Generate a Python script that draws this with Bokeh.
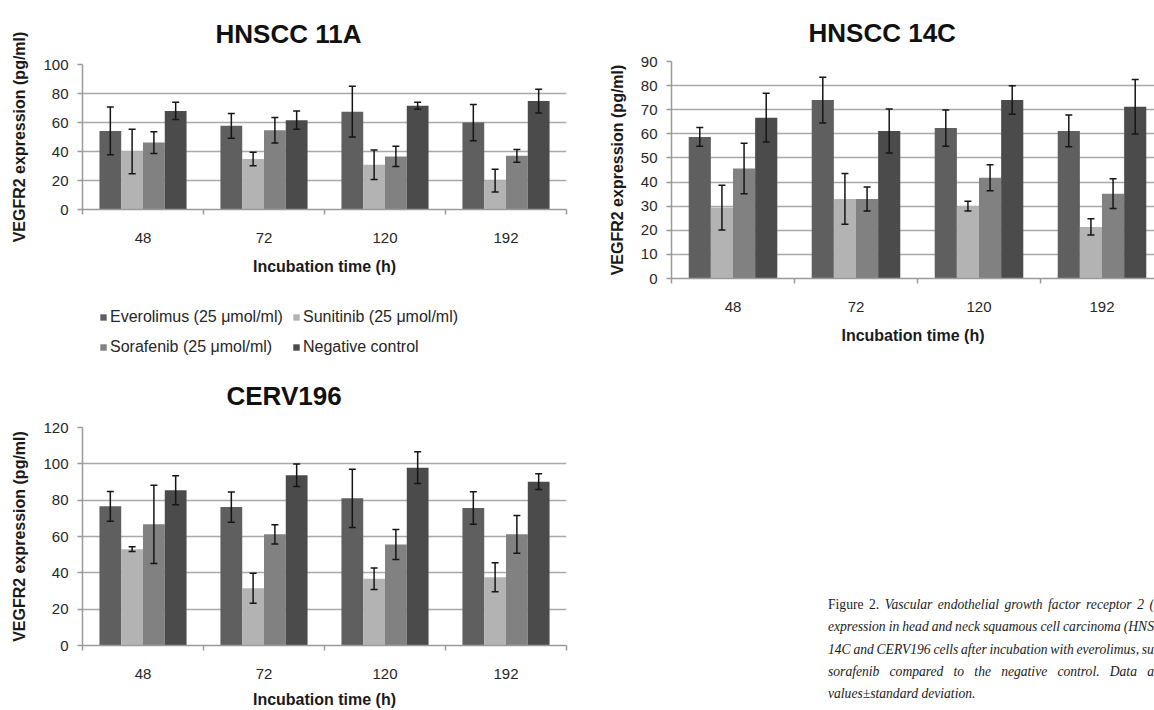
from bokeh.plotting import figure
from bokeh.models import (ColumnDataSource, FixedTicker, Whisker, TeeHead, Legend,
                          LegendItem, Div, Range1d, Spacer)
from bokeh.layouts import row, column
from bokeh.embed import file_html
from bokeh.resources import INLINE

# ---------------- data ----------------
times = ["48", "72", "120", "192"]
series = ["Everolimus (25 μmol/ml)", "Sunitinib (25 μmol/ml)",
          "Sorafenib (25 μmol/ml)", "Negative control"]

# HNSCC 11A
a_ev = [54.2, 57.7, 67.5, 60.0]
a_ev_sd = [16.5, 8.5, 17.5, 12.5]
a_su = [40.0, 34.8, 30.9, 19.9]
a_su_sd = [15.4, 4.6, 10.2, 7.8]
a_so = [46.2, 54.7, 36.6, 37.0]
a_so_sd = [7.5, 8.8, 7.0, 4.4]
a_nc = [68.0, 61.6, 71.6, 74.8]
a_nc_sd = [6.0, 6.3, 2.4, 8.2]

# HNSCC 14C
b_ev = [58.7, 74.0, 62.4, 61.2]
b_ev_sd = [3.9, 9.5, 7.5, 6.6]
b_su = [29.4, 33.0, 30.0, 21.4]
b_su_sd = [9.3, 10.5, 2.0, 3.4]
b_so = [45.6, 33.0, 41.8, 35.2]
b_so_sd = [10.5, 5.0, 5.4, 6.2]
b_nc = [66.7, 61.2, 74.0, 71.2]
b_nc_sd = [10.1, 9.1, 5.9, 11.3]

# CERV196
c_ev = [76.6, 76.2, 81.0, 75.7]
c_ev_sd = [8.2, 8.3, 16.0, 9.0]
c_su = [53.0, 31.5, 36.7, 37.6]
c_su_sd = [1.3, 8.3, 5.9, 8.0]
c_so = [66.7, 61.2, 55.6, 61.2]
c_so_sd = [21.5, 5.3, 8.2, 10.4]
c_nc = [85.5, 93.7, 97.9, 90.2]
c_nc_sd = [8.0, 6.2, 8.7, 4.3]

a_yticks = [0, 20, 40, 60, 80, 100]
b_yticks = [0, 10, 20, 30, 40, 50, 60, 70, 80, 90]
c_yticks = [0, 20, 40, 60, 80, 100, 120]

colors = ["#5f5f5f", "#b3b3b3", "#818181", "#4b4b4b"]
FONT = "Liberation Sans"
BW = 0.18
YLABEL = "VEGFR2 expression (pg/ml)"


def make_chart(title, means, sds, yticks, width, height, borders, xend, toffset, tstandoff):
    left, right, top, bottom = borders
    p = figure(width=width, height=height, output_backend="svg", toolbar_location=None,
               tools="", x_range=Range1d(0, xend), y_range=Range1d(0, yticks[-1]),
               min_border_left=left, min_border_right=right,
               min_border_top=top, min_border_bottom=bottom,
               background_fill_color="white", border_fill_color="white")
    p.outline_line_color = None
    p.title.text = title
    p.title.align = "left"
    p.title.offset = toffset
    p.title.standoff = tstandoff
    p.title.text_font = FONT
    p.title.text_font_style = "bold"
    p.title.text_font_size = "26px"
    p.title.text_color = "#111111"

    renderers = []
    centers = [i + 0.5 for i in range(len(times))]
    for j, (m, s) in enumerate(zip(means, sds)):
        xs = [c + (j - 1.5) * BW for c in centers]
        src = ColumnDataSource(dict(
            x=xs, top=m,
            upper=[v + e for v, e in zip(m, s)],
            lower=[v - e for v, e in zip(m, s)]))
        r = p.vbar(x="x", top="top", bottom=0, width=BW, source=src,
                   fill_color=colors[j], line_color=None)
        renderers.append((r, src))
    for r, src in renderers:
        w = Whisker(source=src, base="x", upper="upper", lower="lower",
                    dimension="height", line_color="#151515", line_width=1.5,
                    level="overlay",
                    upper_head=TeeHead(size=7, line_color="#151515", line_width=1.5),
                    lower_head=TeeHead(size=7, line_color="#151515", line_width=1.5))
        p.add_layout(w)

    xa = p.xaxis[0]
    xa.ticker = FixedTicker(ticks=centers, minor_ticks=[0, 1, 2, 3, 4])
    xa.major_label_overrides = {c: t for c, t in zip(centers, times)}
    xa.major_tick_line_color = None
    xa.major_tick_out = 0
    xa.major_tick_in = 0
    xa.minor_tick_out = 5
    xa.minor_tick_in = 0
    xa.minor_tick_line_color = "#9a9a9a"
    xa.minor_tick_line_width = 1.5
    xa.axis_line_color = "#9a9a9a"
    xa.axis_line_width = 1.5
    xa.major_label_standoff = 18
    xa.axis_label = "Incubation time (h)"
    xa.axis_label_standoff = 12

    ya = p.yaxis[0]
    ya.ticker = FixedTicker(ticks=yticks)
    ya.minor_tick_line_color = None
    ya.major_tick_out = 5
    ya.major_tick_in = 0
    ya.major_tick_line_color = "#9a9a9a"
    ya.major_tick_line_width = 1.5
    ya.axis_line_color = "#9a9a9a"
    ya.axis_line_width = 1.5
    ya.major_label_standoff = 9
    ya.axis_label = YLABEL
    ya.axis_label_standoff = 12

    for ax in (xa, ya):
        ax.major_label_text_font = FONT
        ax.major_label_text_font_size = "15px"
        ax.major_label_text_color = "#262626"
        ax.axis_label_text_font = FONT
        ax.axis_label_text_font_size = "16px"
        ax.axis_label_text_font_style = "bold"
        ax.axis_label_text_color = "#1a1a1a"

    p.xgrid.visible = False
    p.ygrid.grid_line_color = "#a9a9a9"
    p.ygrid.grid_line_width = 1.5
    return p, [r for r, _ in renderers]


pA, rA = make_chart("HNSCC 11A", [a_ev, a_su, a_so, a_nc],
                    [a_ev_sd, a_su_sd, a_so_sd, a_nc_sd], a_yticks,
                    575, 285, (80, 9, 64, 76), 4, 133, 31)

# ---- legend strip (series key for the charts) ----
pL = figure(width=575, height=75, output_backend="svg", toolbar_location=None, tools="",
            x_range=Range1d(0, 1), y_range=Range1d(0, 1),
            x_axis_location=None, y_axis_location=None,
            min_border=0, min_border_left=0, min_border_right=0,
            min_border_top=0, min_border_bottom=0,
            background_fill_color="white", border_fill_color="white")
pL.outline_line_color = None
pL.xgrid.visible = False
pL.ygrid.visible = False
pL.title.visible = False
key_renderers = []
for j, m in enumerate([a_ev, a_su, a_so, a_nc]):
    src = ColumnDataSource(dict(x=[i + 0.5 for i in range(len(times))], top=m))
    r = pL.vbar(x="x", top="top", bottom=0, width=BW, source=src,
                fill_color=colors[j], line_color=None)
    r.visible = False
    key_renderers.append(r)


def make_legend(items, loc):
    return Legend(items=items, orientation="horizontal", location=loc,
                  label_text_font=FONT, label_text_font_size="16px",
                  label_text_color="#262626", glyph_width=8, glyph_height=8,
                  label_standoff=3, label_height=18, label_width=174, spacing=8,
                  padding=0, margin=0, border_line_color=None,
                  background_fill_alpha=0, inactive_fill_alpha=0,
                  click_policy="none")


pL.add_layout(make_legend([LegendItem(label=series[0], renderers=[key_renderers[0]]),
                           LegendItem(label=series[1], renderers=[key_renderers[1]])],
                          (17, 34)))
pL.add_layout(make_legend([LegendItem(label=series[2], renderers=[key_renderers[2]]),
                           LegendItem(label=series[3], renderers=[key_renderers[3]])],
                          (17, 4)))

pB, _ = make_chart("HNSCC 14C", [b_ev, b_su, b_so, b_nc],
                   [b_ev_sd, b_su_sd, b_so_sd, b_nc_sd], b_yticks,
                   579, 360, (96, 0, 61, 82), 483 / 123.0, 137, 28)

pC, _ = make_chart("CERV196", [c_ev, c_su, c_so, c_nc],
                   [c_ev_sd, c_su_sd, c_so_sd, c_nc_sd], c_yticks,
                   575, 350, (82, 9, 67, 65), 4, 144, 34)
pC.xaxis[0].axis_label_standoff = 9


def jline(words, italic_from=0):
    spans = []
    for k, w in enumerate(words):
        st = "font-style:italic;" if k >= italic_from else "font-style:normal;"
        spans.append(f"<span style='{st}'>{w}</span>")
    return ("<div style='display:flex;justify-content:space-between;width:326px;"
            "white-space:nowrap;height:22.3px;'>" + "".join(spans) + "</div>")


lines = [
    jline(["Figure", "2.", "Vascular", "endothelial", "growth", "factor", "receptor", "2", "("], 2),
    jline(["expression", "in", "head", "and", "neck", "squamous", "cell", "carcinoma", "(HNS"]),
    jline(["14C", "and", "CERV196", "cells", "after", "incubation", "with", "everolimus,", "su"]),
    jline(["sorafenib", "compared", "to", "the", "negative", "control.", "Data", "a"]),
    "<div style='font-style:italic;white-space:nowrap;height:22.3px;'>values±standard deviation.</div>",
]
caption_html = ("<div style=\"width:326px;font-family:'Liberation Serif';font-size:13.6px;"
                "line-height:22.3px;color:#1a1a1a;\">" + "".join(lines) + "</div>")
caption = Div(text=caption_html, width=326, height=116, margin=0)

right = column(pB, Spacer(width=579, height=234),
               row(Spacer(width=253, height=116), caption))
layout = row(column(pA, pL, pC), right)
open("out.html", "w").write(file_html(layout, INLINE))
